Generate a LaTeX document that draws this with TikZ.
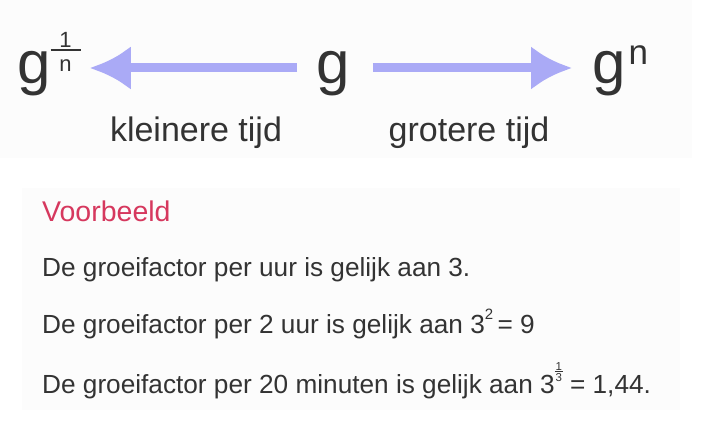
\documentclass[tikz,border=0pt]{standalone}
\usepackage{fontspec}
\setmainfont{Liberation Sans}
\usetikzlibrary{arrows.meta}
\definecolor{pijl}{RGB}{170,170,246}
\definecolor{tekst}{RGB}{51,51,51}
\definecolor{rood}{RGB}{214,56,94}
\definecolor{vlak}{RGB}{252,252,252}
% breuk: breedte, ruimte onder de streep, teller, noemer
\newcommand{\stackfrac}[4]{\vbox{\hbox to #1{\hss#3\hss}\kern0.08em\hrule height 0.065em\kern#2\hbox to #1{\hss#4\hss}}}

\begin{document}
\begin{tikzpicture}[x=1pt,y=-1pt]
    \tikzstyle{big}=[inner sep=0pt,text=tekst,font=\fontsize{60}{60}\selectfont,text height=44pt,text depth=12.6pt]
    \tikzstyle{label}=[inner sep=0pt,text=tekst,font=\fontsize{34}{34}\selectfont,anchor=base]
    \tikzstyle{line}=[inner sep=0pt,text=tekst,font=\fontsize{26.2}{26.2}\selectfont,anchor=base west]
    \tikzstyle{bigarrow}=[pijl,line width=9pt,-{Latex[length=41pt,width=44pt]}]
    \useasboundingbox (0,0) rectangle (702,430);
    \fill[white] (0,0) rectangle (702,430);
    \fill[vlak] (0,0) rectangle (692,158);
    \fill[vlak] (22,188) rectangle (680,410);

    \node (ginv)[big,anchor=west] at (17,68) {g\raisebox{12pt}{\fontsize{22}{22}\selectfont\stackfrac{30pt}{9pt}{1}{n}}};
    \node (g)[big] at (333,68) {g};
    \node (gn)[big,anchor=west] at (592,68) {g\kern3pt\raisebox{19pt}{\fontsize{35}{35}\selectfont n}};

    \draw[bigarrow,shorten <=19pt,shorten >=9pt] (g) -- (ginv);
    \draw[bigarrow,shorten <=23pt,shorten >=20pt] (g) -- (gn);

    \node (klein)[label] at (196,142) {kleinere tijd};
    \node (groot)[label] at (469,142) {grotere tijd};

    \node (vb)[line,text=rood,font=\fontsize{28.5}{28.5}\selectfont] at (42,222) {Voorbeeld};
    \node (uur)[line] at (42,277) {De groeifactor per uur is gelijk aan 3.};
    \node (tweeuur)[line] at (42,334) {De groeifactor per 2 uur is gelijk aan 3\raisebox{14pt}{\fontsize{15}{15}\selectfont 2}\,= 9};
    \node (twintig)[line] at (42,394) {De groeifactor per 20 minuten is gelijk aan 3\raisebox{12pt}{\fontsize{11.5}{11.5}\selectfont\stackfrac{8pt}{2pt}{1}{3}} = 1,44.};
\end{tikzpicture}
\end{document}
